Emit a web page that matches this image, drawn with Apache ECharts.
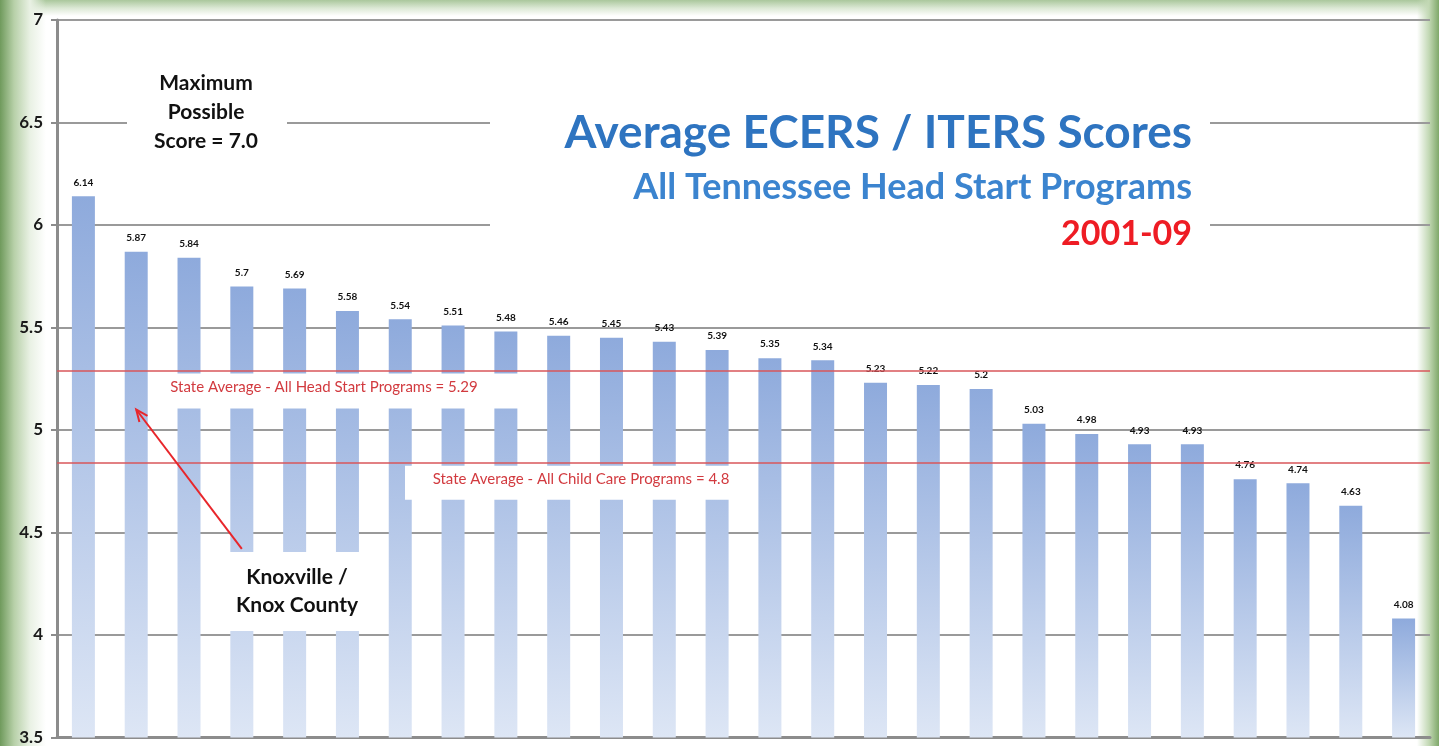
<!DOCTYPE html>
<html lang="en">
<head>
    <meta charset="UTF-8">
    <title>Average ECERS / ITERS Scores</title>
    <script src="https://cdn.jsdelivr.net/npm/echarts@6/dist/echarts.min.js"></script>
    <style>
        html, body {
            margin: 0;
            padding: 0;
            overflow: hidden;
        }

        #main {
            width: 1439px;
            height: 746px;
            background:
                linear-gradient(to right, #6f9a5c 0px, #b7d0a8 14px, #e9f1e4 30px, rgba(255, 255, 255, 0) 46px),
                linear-gradient(to left, #7fa86a 0px, #c2d8b4 10px, rgba(255, 255, 255, 0) 22px),
                linear-gradient(to bottom, #aac79c 0px, #dbe8d4 8px, rgba(255, 255, 255, 0) 16px),
                #ffffff;
        }
    </style>
</head>
<body>
<div id="main"></div>
<script type="application/javascript">
    // data
    var programs = ['1', '2', '3', '4', '5', '6', '7', '8', '9', '10', '11', '12', '13',
        '14', '15', '16', '17', '18', '19', '20', '21', '22', '23', '24', '25', '26'];
    var scores = [6.14, 5.87, 5.84, 5.7, 5.69, 5.58, 5.54, 5.51, 5.48, 5.46, 5.45, 5.43, 5.39,
        5.35, 5.34, 5.23, 5.22, 5.2, 5.03, 4.98, 4.93, 4.93, 4.76, 4.74, 4.63, 4.08];
    var yTicks = [3.5, 4, 4.5, 5, 5.5, 6, 6.5, 7];
    var headStartAvg = 5.29;
    var childCareAvg = 4.84;

    var FONT = 'Lato, "Open Sans", sans-serif';
    var myChart = echarts.init(document.getElementById('main'));

    var option = {
        animation: false,
        backgroundColor: 'transparent',
        grid: {
            left: 57,
            right: 9,
            top: 20,
            bottom: 6
        },
        xAxis: {
            type: 'category',
            data: programs,
            axisLine: {show: true, lineStyle: {color: '#8c8c8c', width: 3}},
            axisTick: {show: false},
            axisLabel: {show: false}
        },
        yAxis: {
            type: 'value',
            min: yTicks[0],
            max: yTicks[yTicks.length - 1],
            interval: 0.5,
            axisLine: {show: true, lineStyle: {color: '#8c8c8c', width: 3}},
            axisTick: {show: true, length: 6, lineStyle: {color: '#8c8c8c', width: 2}},
            axisLabel: {
                color: '#1a1a1a',
                fontFamily: FONT,
                fontWeight: 'bold',
                fontSize: 17,
                margin: 14
            },
            splitLine: {lineStyle: {color: '#9a9a9a', width: 2}}
        },
        series: [
            {
                type: 'bar',
                data: scores,
                barWidth: 23,
                itemStyle: {
                    color: new echarts.graphic.LinearGradient(0, 0, 0, 1, [
                        {offset: 0, color: '#8eaadc'},
                        {offset: 1, color: '#dde6f5'}
                    ])
                },
                label: {
                    show: true,
                    position: 'top',
                    distance: 9,
                    color: '#111',
                    fontFamily: FONT,
                    fontWeight: 'bold',
                    fontSize: 10
                },
                markLine: {
                    silent: true,
                    symbol: 'none',
                    z: 10,
                    label: {show: false},
                    lineStyle: {color: '#d9565a', width: 1.5, type: 'solid'},
                    data: [{yAxis: headStartAvg}, {yAxis: childCareAvg}]
                }
            }
        ]
    };

    myChart.setOption(option);

    // annotations placed with the axes' own scale
    function px(i, v) {
        return myChart.convertToPixel({gridIndex: 0}, [i, v]);
    }

    var tipA = px(1, 5.1);
    var tailA = px(2.78, 4.42);
    var ang = Math.atan2(tipA[1] - tailA[1], tipA[0] - tailA[0]);
    var headLen = 13, spread = 0.4;
    var head = [
        [tipA[0] - headLen * Math.cos(ang - spread), tipA[1] - headLen * Math.sin(ang - spread)],
        [tipA[0], tipA[1]],
        [tipA[0] - headLen * Math.cos(ang + spread), tipA[1] - headLen * Math.sin(ang + spread)]
    ];

    var hs = px(0, headStartAvg);
    var cc = px(0, childCareAvg);

    myChart.setOption({
        graphic: [
            // title block
            {type: 'rect', z: 50, shape: {x: 490, y: 96, width: 720, height: 164}, style: {fill: '#fff'}},
            {
                type: 'text', z: 51, x: 1192, y: 133,
                style: {
                    text: 'Average ECERS / ITERS Scores', fill: '#2e74c0',
                    font: 'bold 46px ' + FONT, align: 'right', verticalAlign: 'middle'
                }
            },
            {
                type: 'text', z: 51, x: 1192, y: 187,
                style: {
                    text: 'All Tennessee Head Start Programs', fill: '#3b84cf',
                    font: 'bold 36px ' + FONT, align: 'right', verticalAlign: 'middle'
                }
            },
            {
                type: 'text', z: 51, x: 1192, y: 234,
                style: {
                    text: '2001-09', fill: '#ee1c24',
                    font: 'bold 34px ' + FONT, align: 'right', verticalAlign: 'middle'
                }
            },
            // maximum score note
            {type: 'rect', z: 50, shape: {x: 127, y: 66, width: 160, height: 90}, style: {fill: '#fff'}},
            {
                type: 'text', z: 51, x: 206, y: 112,
                style: {
                    text: 'Maximum\nPossible\nScore = 7.0', fill: '#111', lineHeight: 29,
                    font: 'bold 21px ' + FONT, align: 'center', verticalAlign: 'middle'
                }
            },
            // head start average label
            {type: 'rect', z: 50, shape: {x: 148, y: hs[1] + 3, width: 384, height: 35}, style: {fill: '#fff'}},
            {
                type: 'text', z: 51, x: 324, y: hs[1] + 17,
                style: {
                    text: 'State Average - All Head Start Programs = 5.29', fill: '#d23a3f',
                    font: '15px ' + FONT, align: 'center', verticalAlign: 'middle'
                }
            },
            // child care average label
            {type: 'rect', z: 50, shape: {x: 405, y: cc[1] + 3, width: 352, height: 34}, style: {fill: '#fff'}},
            {
                type: 'text', z: 51, x: 581, y: cc[1] + 16,
                style: {
                    text: 'State Average - All Child Care Programs = 4.8', fill: '#d23a3f',
                    font: '15px ' + FONT, align: 'center', verticalAlign: 'middle'
                }
            },
            // Knoxville label
            {type: 'rect', z: 50, shape: {x: 224, y: 552, width: 142, height: 79}, style: {fill: '#fff'}},
            {
                type: 'text', z: 51, x: 297, y: 591,
                style: {
                    text: 'Knoxville /\nKnox County', fill: '#111', lineHeight: 28,
                    font: 'bold 21px ' + FONT, align: 'center', verticalAlign: 'middle'
                }
            },
            {
                type: 'line', z: 52,
                shape: {x1: tailA[0], y1: tailA[1], x2: tipA[0], y2: tipA[1]},
                style: {stroke: '#e8262b', lineWidth: 2}
            },
            {
                type: 'polyline', z: 52,
                shape: {points: head},
                style: {stroke: '#e8262b', lineWidth: 2, fill: null}
            }
        ]
    });

    window.onresize = function () {
        myChart.resize();
    };
</script>
</body>
</html>
